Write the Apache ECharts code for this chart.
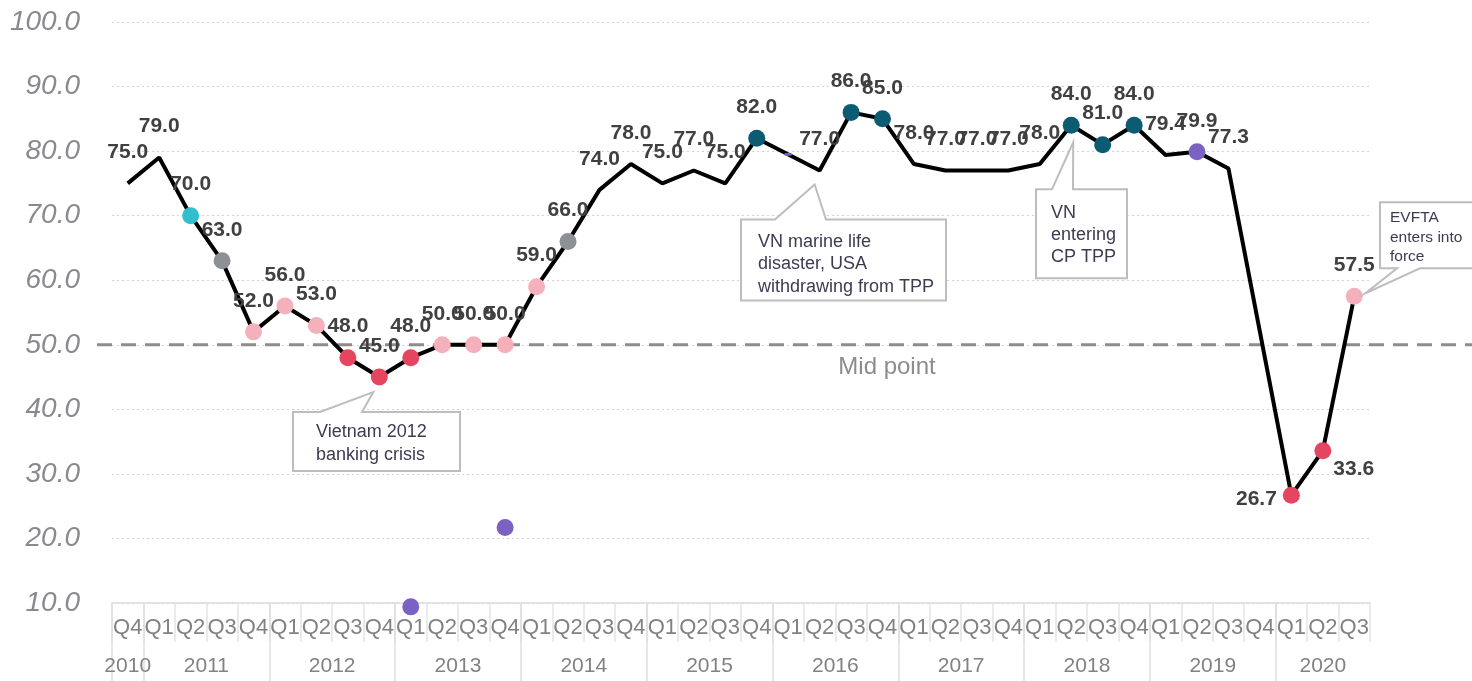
<!DOCTYPE html>
<html>
<head>
<meta charset="utf-8">
<script src="https://cdn.jsdelivr.net/npm/echarts@6/dist/echarts.min.js"></script>
<style>
  html, body { margin: 0; padding: 0; background: #fff; }
  #main { width: 1472px; height: 681px; }
</style>
</head>
<body>
<div id="main"></div>
<script>
// quarters Q4 2010 .. Q3 2020
const quarters = ["Q4",
  "Q1", "Q2", "Q3", "Q4", "Q1", "Q2", "Q3", "Q4", "Q1", "Q2", "Q3", "Q4",
  "Q1", "Q2", "Q3", "Q4", "Q1", "Q2", "Q3", "Q4", "Q1", "Q2", "Q3", "Q4",
  "Q1", "Q2", "Q3", "Q4", "Q1", "Q2", "Q3", "Q4", "Q1", "Q2", "Q3", "Q4",
  "Q1", "Q2", "Q3"];
const years = ["2010", "2011", "2012", "2013", "2014", "2015", "2016", "2017", "2018", "2019", "2020"];
const quartersPerYear = [1, 4, 4, 4, 4, 4, 4, 4, 4, 4, 3];

const index = [75.0, 79.0, 70.0, 63.0, 52.0, 56.0, 53.0, 48.0, 45.0, 48.0,
  50.0, 50.0, 50.0, 59.0, 66.0, 74.0, 78.0, 75.0, 77.0, 75.0,
  82.0, null, 77.0, 86.0, 85.0, 78.0, 77.0, 77.0, 77.0, 78.0,
  84.0, 81.0, 84.0, 79.4, 79.9, 77.3, null, 26.7, 33.6, 57.5];

// marker kind per quarter ('' = no dot)
const markerKind = ["", "", "cyan", "grey", "pink", "pink", "pink", "red", "red", "red",
  "pink", "pink", "pink", "pink", "grey", "", "", "", "", "",
  "teal", "", "", "teal", "teal", "", "", "", "", "",
  "teal", "teal", "teal", "", "purple", "", "", "red", "red", "pink"];

// stray purple points [quarter index, value]
const strayPoints = [[9, 9.4], [12, 21.7], [21, 79.5]];

const midPoint = 50;

const kindColor = {
  cyan: "#31bfd0", grey: "#8d9095", pink: "#f4b1bc", red: "#e5455f",
  teal: "#0b5c72", purple: "#7b61c3"
};

const labelFont = "Liberation Sans, Arial, sans-serif";

const lineData = index.map((v, i) => {
  const k = markerKind[i];
  const item = {
    value: v,
    itemStyle: { color: k ? kindColor[k] : "rgba(0,0,0,0)" }
  };
  if (i === 37) item.label = { position: "left", distance: 6, offset: [0, 4] };
  if (i === 38) item.label = { position: "right", distance: 2, offset: [0, 19] };
  return item;
});

// year boundaries & centres on a 0..40 value scale
const yearEdges = [0];
quartersPerYear.forEach((n) => yearEdges.push(yearEdges[yearEdges.length - 1] + n));
const yearCentres = years.map((y, i) => (yearEdges[i] + yearEdges[i + 1]) / 2);
const tickEdges = yearEdges.slice(0, yearEdges.length - 1);

const chart = echarts.init(document.getElementById("main"));
const option = {
  animation: false,
  textStyle: { fontFamily: labelFont },
  grid: { left: 112, right: 102, top: 22, bottom: 78 },
  xAxis: [
    {
      type: "category",
      data: quarters,
      boundaryGap: true,
      axisLine: { show: true, lineStyle: { color: "#dcdcdc", width: 1.5 } },
      axisTick: { show: true, interval: 0, length: 39, lineStyle: { color: "#e3e3e3", width: 1.5 } },
      axisLabel: { interval: 0, color: "#828282", fontSize: 22, margin: 14, fontFamily: labelFont },
      splitLine: { show: false }
    },
    {
      type: "value",
      position: "bottom",
      min: 0,
      max: 40,
      axisLine: { show: false },
      splitLine: { show: false },
      axisTick: {
        show: true, customValues: tickEdges, length: 78,
        lineStyle: { color: "#e0e0e0", width: 1.5 }
      },
      axisLabel: {
        customValues: yearCentres,
        margin: 53,
        color: "#828282",
        fontSize: 21,
        fontFamily: labelFont,
        formatter: (v) => {
          const i = yearCentres.indexOf(v);
          return i >= 0 ? years[i] : "";
        }
      }
    }
  ],
  yAxis: {
    type: "value",
    min: 10,
    max: 100,
    interval: 10,
    axisLine: { show: false },
    axisTick: { show: false },
    axisLabel: {
      formatter: (v) => v.toFixed(1),
      color: "#8a8a8e",
      fontSize: 28,
      fontStyle: "italic",
      fontFamily: labelFont,
      margin: 32
    },
    splitLine: { lineStyle: { color: "#d2d2d2", type: [2, 3], width: 1.2 } }
  },
  series: [
    {
      type: "line",
      data: lineData,
      connectNulls: true,
      symbol: "circle",
      symbolSize: 17,
      showAllSymbol: true,
      lineStyle: { color: "#000", width: 4 },
      z: 3,
      label: {
        show: true,
        position: "top",
        distance: 12,
        formatter: (p) => (p.value == null ? "" : p.value.toFixed(1)),
        color: "#404040",
        fontSize: 21,
        fontWeight: "bold",
        fontFamily: labelFont
      }
    },
    {
      type: "scatter",
      data: strayPoints,
      clip: false,
      z: 4,
      symbol: "circle",
      symbolSize: (v) => (v[1] > 70 ? [8, 3] : 17),
      itemStyle: { color: kindColor.purple, opacity: 1 }
    }
  ]
};
chart.setOption(option);

// annotations
function px(i, v) {
  return chart.convertToPixel({ xAxisIndex: 0, yAxisIndex: 0 }, [i, v]);
}
const midY = px(0, midPoint)[1];
const calloutStyle = { fill: "#fff", stroke: "#bdbdbd", lineWidth: 2 };
const calloutText = { fill: "#3c3b52", fontFamily: labelFont };

function callout(tip, box, notch, side, lines, fontSize, lineH, textX, textY) {
  const [l, t, r, b] = box;
  let pts;
  if (side === "top") {
    pts = [[l, t], [notch[0], t], tip, [notch[1], t], [r, t], [r, b], [l, b]];
  } else {
    pts = [[l, t], [r, t], [r, b], [notch[1], b], tip, [notch[0], b], [l, b]];
  }
  return [
    { type: "polygon", z: 20, shape: { points: pts }, style: calloutStyle },
    {
      type: "text", z: 21, x: textX, y: textY,
      style: Object.assign({ text: lines.join("\n"), fontSize: fontSize, lineHeight: lineH }, calloutText)
    }
  ];
}

const p8 = px(8, index[8]);
const p22 = px(22, index[22]);
const p30 = px(30, index[30]);
const p39 = px(39, index[39]);

let elements = [
  {
    type: "line", z: 1,
    shape: { x1: 97, y1: midY, x2: 1472, y2: midY },
    style: { stroke: "#8c8c8c", lineWidth: 3, lineDash: [15, 9] }
  },
  {
    type: "text", z: 1, x: 887, y: midY + 23,
    style: { text: "Mid point", fill: "#8c8c8c", fontSize: 24, fontFamily: labelFont, align: "center", verticalAlign: "middle" }
  }
];
elements = elements.concat(
  callout([p8[0] - 6, p8[1] + 15], [293, p8[1] + 35, 460, p8[1] + 94], [320, 362], "top",
    ["Vietnam 2012", "banking crisis"], 18, 23, 316, p8[1] + 43),
  callout([p22[0] - 5, p22[1] + 14], [741, p22[1] + 49, 946, p22[1] + 130], [775, 826], "top",
    ["VN marine life", "disaster, USA", "withdrawing from TPP"], 18, 22.5, 758, p22[1] + 60),
  callout([p30[0] + 2, p30[1] + 17], [1036, p30[1] + 64, 1127, p30[1] + 153], [1052, 1073], "top",
    ["VN", "entering", "CP TPP"], 18, 22, 1051, p30[1] + 77),
  callout([p39[0] + 11, p39[1] - 3], [1380, p39[1] - 94, 1474, p39[1] - 28], [1397, 1420], "bottom",
    ["EVFTA", "enters into", "force"], 15.5, 19.5, 1390, p39[1] - 88)
);
chart.setOption({ graphic: { elements: elements } });
</script>
</body>
</html>
